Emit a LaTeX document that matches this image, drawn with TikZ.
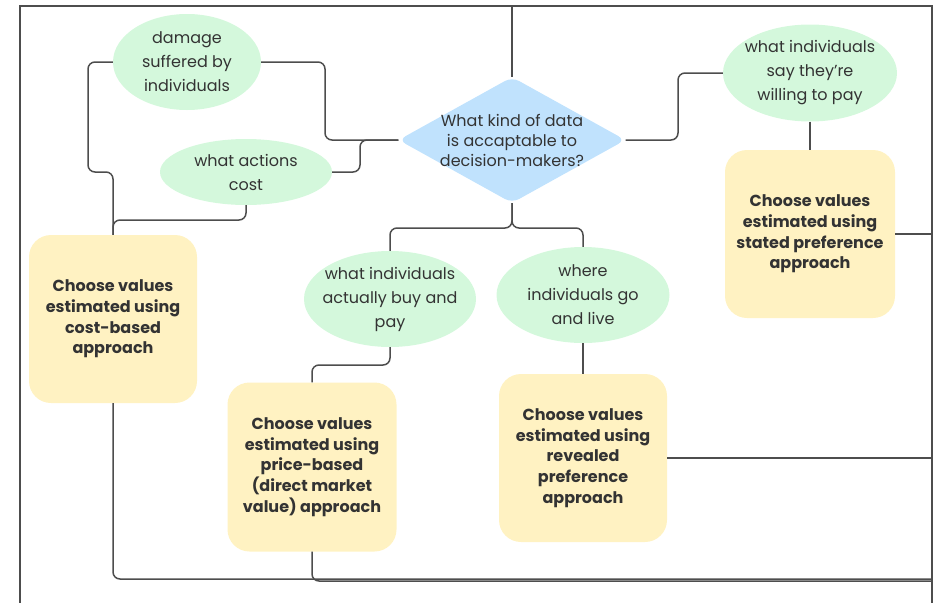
\documentclass[tikz,border=0pt]{standalone}
\usepackage{fontspec}
\setmainfont{Poppins}
\usetikzlibrary{shapes.geometric}
\definecolor{leaf}{HTML}{D4F8DC}
\definecolor{sky}{HTML}{C0E2FD}
\definecolor{sand}{HTML}{FFF2C2}
\definecolor{ink}{HTML}{333333}
\definecolor{wire}{HTML}{4D4D4D}
\tikzset{
 question/.style={ellipse, fill=leaf, inner sep=-30pt, align=center, text=ink, font=\fontsize{16}{24}\selectfont},
 answer/.style={rectangle, rounded corners=22pt, fill=sand, inner sep=0pt, align=center, text=ink, font=\fontsize{16}{20.7}\selectfont\bfseries},
 link/.style={draw=wire, line width=1.5pt, rounded corners=7pt},
 frame/.style={draw=wire, line width=2pt},
}

\begin{document}
\begin{tikzpicture}[x=1pt,y=-1pt]
 \useasboundingbox (0,0) rectangle (936,603);
 % free ends on the frame
 \coordinate (tl) at (20,6);
 \coordinate (tr) at (932,6);
 \coordinate (bl) at (20,603);
 \coordinate (br) at (932,603);
 % decision
 \node (dq) [diamond, fill=sky, rounded corners=8pt, inner sep=0pt, minimum width=227pt, minimum height=126pt] at (512,140) {};
 \node (dqtext) [align=center, text=ink, font=\fontsize{16}{20}\selectfont] at (dq.center) {What kind of data\\is accaptable to\\decision-makers?};
 % kinds of data
 \node (dmg) [question, minimum width=148pt, minimum height=96pt] at (187,62) {damage\\suffered by\\individuals};
 \node (act) [question, minimum width=172pt, minimum height=66pt] at (246,172) {what actions\\cost};
 \node (buy) [question, minimum width=172pt, minimum height=96pt] at (390,299) {what individuals\\actually buy and\\pay};
 \node (live) [question, minimum width=173pt, minimum height=96pt] at (583,295) {where\\individuals go\\and live};
 \node (say) [question, minimum width=174pt, minimum height=97pt] at (810,73) {what individuals\\say they’re\\willing to pay};
 % approaches
 \node (cost) [answer, minimum width=168pt, minimum height=168pt] at (113,319) {Choose values\\estimated using\\cost-based\\approach};
 \node (price) [answer, minimum width=169pt, minimum height=169pt] at (312,467) {Choose values\\estimated using\\price-based\\(direct market\\value) approach};
 \node (rev) [answer, minimum width=168pt, minimum height=168pt] at (583,458) {Choose values\\estimated using\\revealed\\preference\\approach};
 \node (stated) [answer, minimum width=170pt, minimum height=168pt] at (810,234) {Choose values\\estimated using\\stated preference\\approach};
 % connectors
 \draw[link] (dmg.west) -| (88,172) -| (cost.north);
 \draw[link] (act.south) -- (246,220) -| (cost.north);
 \draw[link] (dmg.east) -| (325,140) -- (dq.west);
 \draw[link] (act.east) -| (360,140) -- (dq.west);
 \draw[link] (dq.south) -- (512,228) -| (buy.north);
 \draw[link] (dq.south) -- (512,228) -| (live.north);
 \draw[link] (dq.east) -| (678,73) -- (say.west);
 \draw[link] (say.south) -- (stated.north);
 \draw[link] (live.south) -- (rev.north);
 \draw[link] (buy.south) -- (390,365) -| (price.north);
 \draw[link] (cost.south) |- (br |- 0,579);
 \draw[link] (price.south) |- (br |- 0,581);
 \draw[link] (stated.east) -- (stated.east -| br);
 \draw[link] (rev.east) -- (rev.east -| br);
 % frame
 \draw[frame] (dq.north) |- (tl) -- (bl);
 \draw[frame] (dq.north) |- (tr) -- (br);
\end{tikzpicture}
\end{document}
